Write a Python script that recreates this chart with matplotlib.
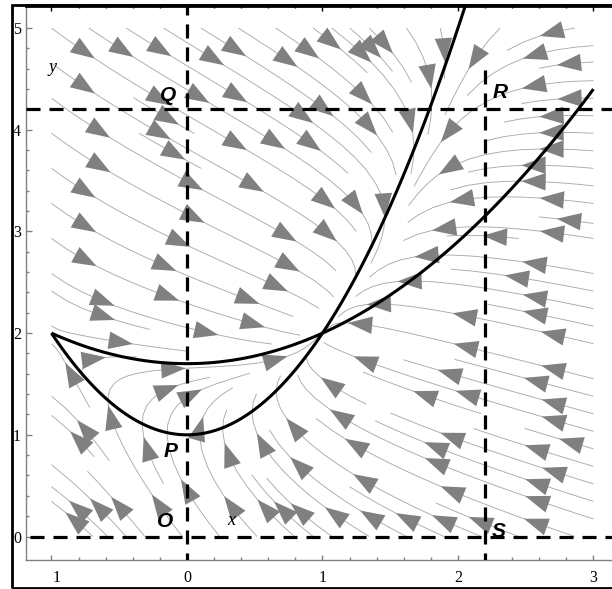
import numpy as np
import matplotlib
matplotlib.use('Agg')
import matplotlib.pyplot as plt
from matplotlib.patches import Rectangle, FancyArrowPatch
import matplotlib.transforms as mtransforms

# ---------------- data ----------------
x_range = [-1.0, 3.0]
y_range = [0.0, 5.0]
# system:  x' = y - (x^2 + 1),   y' = (0.3 x^2 + 1.7) - y
x_nullcline_coeffs = [1.0, 0.0, 1.0]
y_nullcline_coeffs = [0.3, 0.0, 1.7]
vline_x = [0.0, 2.2]
vline_ytop = [5.3, 4.67]
hline_y = [0.0, 4.2]
hline_xleft = [-1.16, -1.19]
point_labels = ['O', 'P', 'Q', 'R', 'S']
point_label_x = [-0.16, -0.12, -0.14, 2.31, 2.30]
point_label_y = [0.15, 0.84, 4.34, 4.37, 0.05]
xticks = [-1, 0, 1, 2, 3]
xtick_labels = ['1', '0', '1', '2', '3']
yticks = [0, 1, 2, 3, 4, 5]
ytick_labels = ['0', '1', '2', '3', '4', '5']
minor_step = 0.2

# ---------------- figure ----------------
W, H = 612, 589
fig = plt.figure(figsize=(W / 100, H / 100), dpi=100)
ax = fig.add_axes([26 / W, (H - 560) / H, (W - 26) / W, (560 - 5.5) / H])
ax.set_xlim(-1.188, 3.137)
ax.set_ylim(-0.231, 5.222)

xs = np.linspace(x_range[0], x_range[1], 161)
ys = np.linspace(y_range[0], y_range[1], 201)
X, Y = np.meshgrid(xs, ys)
U = Y - np.polyval(x_nullcline_coeffs, X)
V = np.polyval(y_nullcline_coeffs, X) - Y

sp = ax.streamplot(X, Y, U, V, density=1.0, color='#aaaaaa', linewidth=0.65,
                   arrowstyle='-', arrowsize=0.01, zorder=1)
for p in list(ax.patches):
    p.remove()
ax.set_xlim(-1.188, 3.137)
ax.set_ylim(-0.231, 5.222)

# regroup the stream segments into trajectories and put arrow heads along them
segs = sp.lines.get_segments()
trajs = []
cur = None
for s in segs:
    s = np.asarray(s)
    if cur is not None and len(s) == 2 and np.allclose(s[0], cur[-1]):
        cur.append(s[1])
    else:
        if cur is not None:
            trajs.append(np.array(cur))
        cur = list(s)
if cur is not None:
    trajs.append(np.array(cur))

spacing_px = 100.0
for tr in trajs:
    if len(tr) < 2:
        continue
    pix = ax.transData.transform(tr)
    d = np.hypot(np.diff(pix[:, 0]), np.diff(pix[:, 1]))
    cum = np.concatenate([[0], np.cumsum(d)])
    L = cum[-1]
    if L < 25:
        continue
    n = max(1, int(L / spacing_px + 0.5))
    for k in range(n):
        sk = (k + 0.5) * L / n
        i = int(np.searchsorted(cum, sk))
        i = min(max(i, 1), len(tr) - 1)
        a = FancyArrowPatch(tuple(tr[i - 1]), tuple(tr[i]),
                            arrowstyle='-|>,head_length=0.5,head_width=0.18',
                            mutation_scale=35, color='#808080', lw=0,
                            shrinkA=0, shrinkB=0, zorder=2)
        ax.add_patch(a)

# nullclines as zero contours of the field
xc = np.linspace(x_range[0], x_range[1], 401)
yc = np.linspace(y_range[0], 5.3, 401)
XC, YC = np.meshgrid(xc, yc)
UC = YC - np.polyval(x_nullcline_coeffs, XC)
VC = np.polyval(y_nullcline_coeffs, XC) - YC
ax.contour(XC, YC, UC, levels=[0], colors='black', linewidths=2.2, zorder=3)
ax.contour(XC, YC, VC, levels=[0], colors='black', linewidths=2.2, zorder=3)

# dashed reference lines
dash = (4.4, 2.8)
for xv, yt in zip(vline_x, vline_ytop):
    ax.plot([xv, xv], [-0.3, yt], color='black', lw=2.3, dashes=dash, zorder=4)
for yv, xl in zip(hline_y, hline_xleft):
    ax.plot([xl, 3.3], [yv, yv], color='black', lw=2.3, dashes=dash, zorder=4)

# point labels
for t, px, py in zip(point_labels, point_label_x, point_label_y):
    ax.text(px, py, t, fontfamily='Liberation Sans', fontweight='bold', fontstyle='italic',
            fontsize=15, ha='center', va='center', zorder=5)
ax.text(0.325, 0.153, 'x', fontfamily='Liberation Serif', fontstyle='italic', fontsize=13,
        ha='center', va='center', zorder=5)
ax.text(-0.996, 4.61, 'y', fontfamily='Liberation Serif', fontstyle='italic', fontsize=13,
        ha='center', va='center', zorder=5)

ax.set_xlim(-1.188, 3.137)
ax.set_ylim(-0.231, 5.222)

# ticks
ax.set_xticks(xticks, xtick_labels)
ax.set_yticks(yticks, ytick_labels)
ax.set_xticks(np.arange(-1.0, 3.01, minor_step), minor=True)
ax.set_yticks(np.arange(0.0, 5.01, minor_step), minor=True)
ax.tick_params(which='both', direction='in', color='#808080', width=1,
               labelsize=11.5, top=False, right=False)
ax.tick_params(which='major', length=5.5 * 0.72)
ax.tick_params(which='minor', length=3 * 0.72)
ax.tick_params(axis='x', pad=7)
ax.tick_params(axis='y', pad=3.5)
for lab in ax.get_xticklabels() + ax.get_yticklabels():
    lab.set_fontfamily('Liberation Serif')
lab0 = ax.get_xticklabels()[0]
lab0.set_transform(lab0.get_transform() + mtransforms.ScaledTranslation(5.5 / 100, 0, fig.dpi_scale_trans))

for s in ['left', 'bottom']:
    ax.spines[s].set_color('#808080')
    ax.spines[s].set_linewidth(1.0)
ax.spines['right'].set_visible(False)
ax.spines['top'].set_color('black')
ax.spines['top'].set_linewidth(2.0)

secx = ax.secondary_xaxis('top')
secx.set_xticks(xticks, ['' for _ in xticks])
secx.set_xticks(np.arange(-1.0, 3.01, minor_step), minor=True)
secx.tick_params(which='both', direction='in', color='black', width=1)
secx.tick_params(which='major', length=5.5 * 0.72)
secx.tick_params(which='minor', length=3 * 0.72)
secx.spines['top'].set_linewidth(2.0)

# outer border
fig.patches.append(Rectangle((11.7 / W, (H - 587.5) / H), (640 - 11.7) / W, (587.5 - 5.3) / H,
                             transform=fig.transFigure, fill=False, lw=2.0, ec='black'))

fig.savefig('out.png', dpi=100)
